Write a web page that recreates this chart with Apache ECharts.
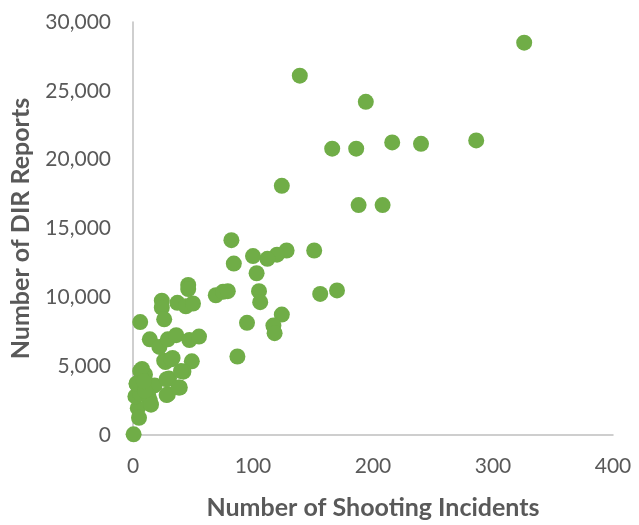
<!DOCTYPE html>
<html>
<head>
<meta charset="utf-8">
<script src="https://cdn.jsdelivr.net/npm/echarts@6/dist/echarts.min.js"></script>
<style>html,body{margin:0;padding:0;background:#fff;overflow:hidden}#c{width:639px;height:525px}</style>
</head>
<body>
<div id="c"></div>
<script>
const shootingIncidents = [326,139,194,216,240,286,166,186,124,188,208,82,128,151,120,112,100,84,103,105,106,156,170,69,75,79,46,46,24,24,26,6,37,44,50,95,124,117,118,87,14,22,29,36,47,55,26,33,49,42,30,39,29,7.5,10,3,6,18,14,4,5,0.5,2,6,3,13,27,32,40,28,28,38,10,15,9];
const dirReports = [28500,26100,24200,21250,21150,21400,20800,20800,18100,16700,16700,14150,13400,13400,13100,12800,13000,12450,11750,10450,9650,10250,10500,10150,10400,10450,10900,10600,9750,9250,8400,8200,9600,9350,9550,8150,8750,7950,7400,5700,6950,6400,6950,7250,6900,7150,5400,5600,5350,4600,4100,3450,2950,4800,4400,3750,4650,3600,2500,1950,1250,50,2800,3000,3700,2800,5300,5500,4650,4050,2900,3450,3200,2200,3900];
const xTicks = [0,100,200,300,400];
const yTicks = [0,5000,10000,15000,20000,25000,30000];

const points = shootingIncidents.map((x, i) => [x, dirReports[i]]);
const chart = echarts.init(document.getElementById('c'));
const font = 'Lato, "Open Sans", sans-serif';
chart.setOption({
  animation: false,
  grid: {left: 126, right: 26, top: 22, bottom: 60, containLabel: false},
  xAxis: {
    type: 'value', min: xTicks[0], max: xTicks[xTicks.length-1], interval: 100,
    name: 'Number of Shooting Incidents', nameLocation: 'middle', nameGap: 60,
    nameTextStyle: {fontFamily: font, fontSize: 25, fontWeight: 'bold', color: '#595959'},
    axisLine: {show: true, lineStyle: {color: '#BFBFBF', width: 1.5}},
    axisTick: {show: false},
    splitLine: {show: false},
    axisLabel: {fontFamily: font, fontSize: 21, color: '#595959', margin: 21}
  },
  yAxis: {
    type: 'value', min: yTicks[0], max: yTicks[yTicks.length-1], interval: 5000,
    name: 'Number of DIR Reports', nameLocation: 'middle', nameGap: 100,
    nameTextStyle: {fontFamily: font, fontSize: 25, fontWeight: 'bold', color: '#595959'},
    axisLine: {show: true, lineStyle: {color: '#BFBFBF', width: 1.5}},
    axisTick: {show: false},
    splitLine: {show: false},
    axisLabel: {fontFamily: font, fontSize: 21, color: '#595959', margin: 22,
      formatter: v => v.toLocaleString('en-US')}
  },
  series: [{
    type: 'scatter', data: points, symbolSize: 16,
    itemStyle: {color: '#70AD47', opacity: 1}
  }]
});
</script>
</body>
</html>
